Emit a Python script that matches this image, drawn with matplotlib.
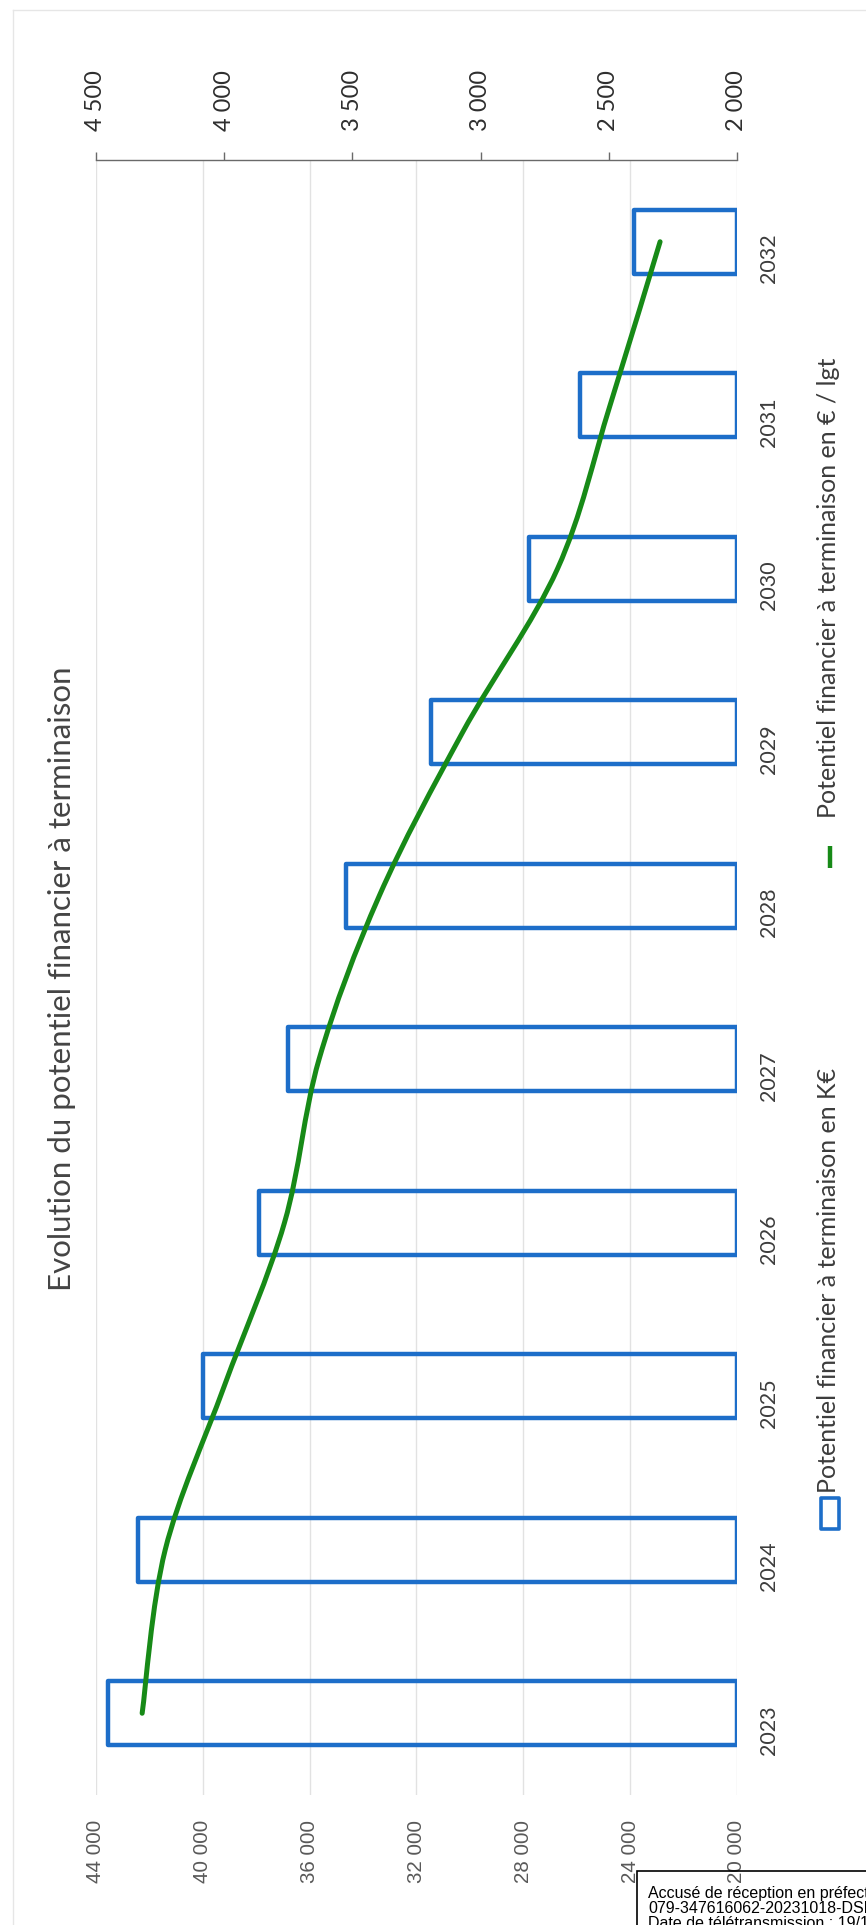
import numpy as np
import matplotlib.pyplot as plt
from matplotlib.patches import Rectangle, PathPatch
from matplotlib.lines import Line2D
from matplotlib.path import Path

# ========================= DATA =========================
years = ['2023', '2024', '2025', '2026', '2027', '2028', '2029', '2030', '2031', '2032']
potentiel_keur = [43560, 42440, 40000, 37900, 36800, 34630, 31450, 27780, 25860, 23850]
potentiel_lgt = [4320, 4230, 4000, 3765, 3630, 3395, 3070, 2700, 2495, 2300]

keur_ticks = [20000, 24000, 28000, 32000, 36000, 40000, 44000]
lgt_ticks = [2000, 2500, 3000, 3500, 4000, 4500]

title = 'Evolution du potentiel financier à terminaison'
label_keur = 'Potentiel financier à terminaison en K€'
label_lgt = 'Potentiel financier à terminaison en € / lgt'
stamp_lines = ['Accusé de réception en préfecture',
               '079-347616062-20231018-DSP2023',
               'Date de télétransmission : 19/10/2023']

BLUE = '#1d6ec9'
GREEN = '#178a17'
W, H = 866, 1925


def fx(px):
    return px / W


def fy(py):
    return 1 - py / H


def fmt(v):
    return f'{v:,}'.replace(',', ' ')


# ========================= FIGURE =========================
fig = plt.figure(figsize=(W / 100, H / 100), dpi=100)
fig.patch.set_facecolor('white')

# faint chart border (left / top)
fig.add_artist(Line2D([fx(13), fx(13)], [fy(10), fy(1925)], color='#e6e6e6', lw=1))
fig.add_artist(Line2D([fx(13), fx(866)], [fy(10), fy(10)], color='#e6e6e6', lw=1))

ax = fig.add_axes([fx(96), fy(1795), fx(737) - fx(96), fy(160) - fy(1795)])
ax.patch.set_alpha(0)

ypos = np.arange(len(years))
base = keur_ticks[0]
ax.barh(ypos, np.array(potentiel_keur) - base, left=base, height=0.39,
        facecolor='none', edgecolor=BLUE, linewidth=3.2, joinstyle='round', zorder=3)

ax.set_xlim(44000, 20000)
ax.set_ylim(-0.5, len(years) - 0.5)
ax.set_xticks(keur_ticks)
ax.set_xticklabels([fmt(v) for v in keur_ticks], rotation=90,
                   family='Liberation Sans', fontsize=14.8, color='#595959')
ax.tick_params(axis='x', length=0, pad=18)
ax.grid(axis='x', color='#e2e2e2', lw=1, zorder=0)
ax.set_axisbelow(True)

ax.yaxis.tick_right()
ax.set_yticks(ypos)
ax.set_yticklabels(years, rotation=90, family='Lato', fontsize=15.5, color='#3c3c3c')
ax.tick_params(axis='y', length=0, pad=16)
for s in ax.spines.values():
    s.set_visible(False)

# secondary axis (top) for the line
ax2 = ax.twiny()
ax2.set_xlim(4500, 2000)
ax2.set_xticks(lgt_ticks)
ax2.set_xticklabels([fmt(v) for v in lgt_ticks], rotation=90,
                    family='Lato', fontsize=17, color='#2e2e2e')
ax2.tick_params(axis='x', direction='out', length=5.8, width=1,
                color='#6a6a6a', pad=15)
for k in ['left', 'right', 'bottom']:
    ax2.spines[k].set_visible(False)
ax2.spines['top'].set_color('#6a6a6a')
ax2.spines['top'].set_linewidth(1)

# smoothed line (bezier through the data points)
pts = np.column_stack([potentiel_lgt, ypos]).astype(float)
ext = np.vstack([pts[0], pts, pts[-1]])
verts = [tuple(pts[0])]
codes = [Path.MOVETO]
for i in range(len(pts) - 1):
    p0, p1, p2, p3 = ext[i], ext[i + 1], ext[i + 2], ext[i + 3]
    c1 = p1 + (p2 - p0) / 6
    c2 = p2 - (p3 - p1) / 6
    verts += [tuple(c1), tuple(c2), tuple(p2)]
    codes += [Path.CURVE4] * 3
ax2.add_patch(PathPatch(Path(verts, codes), facecolor='none', edgecolor=GREEN,
                        lw=3.6, capstyle='round', zorder=4))

# title
fig.text(fx(62), fy(979), title, rotation=90, ha='center', va='center',
         family='Lato', fontsize=22.5, color='#444444')

# legend (drawn rotated like the rest)
fig.add_artist(Rectangle((fx(821), fy(1529)), fx(18), fy(1498) - fy(1529),
                         facecolor='none', edgecolor=BLUE, lw=2.6, joinstyle='round'))
fig.text(fx(829), fy(1493), label_keur, rotation=90, ha='center', va='bottom',
         family='Lato', fontsize=18, color='#3c3c3c')
fig.add_artist(Line2D([fx(830), fx(830)], [fy(868), fy(846)], color=GREEN, lw=3.2,
                      solid_capstyle='butt'))
fig.text(fx(829), fy(818), label_lgt, rotation=90, ha='center', va='bottom',
         family='Lato', fontsize=18, color='#3c3c3c')

# reception stamp
fig.add_artist(Rectangle((fx(637), fy(1960)), fx(300), fy(1871) - fy(1960),
                         facecolor='none', edgecolor='black', lw=1.2))
for i, line in enumerate(stamp_lines):
    fig.text(fx(648), fy(1898 + 15 * i), line, ha='left', va='baseline',
             family=['Liberation Sans Narrow', 'Liberation Sans'], fontsize=11.5,
             color='black')

fig.savefig('out.png', dpi=100)
